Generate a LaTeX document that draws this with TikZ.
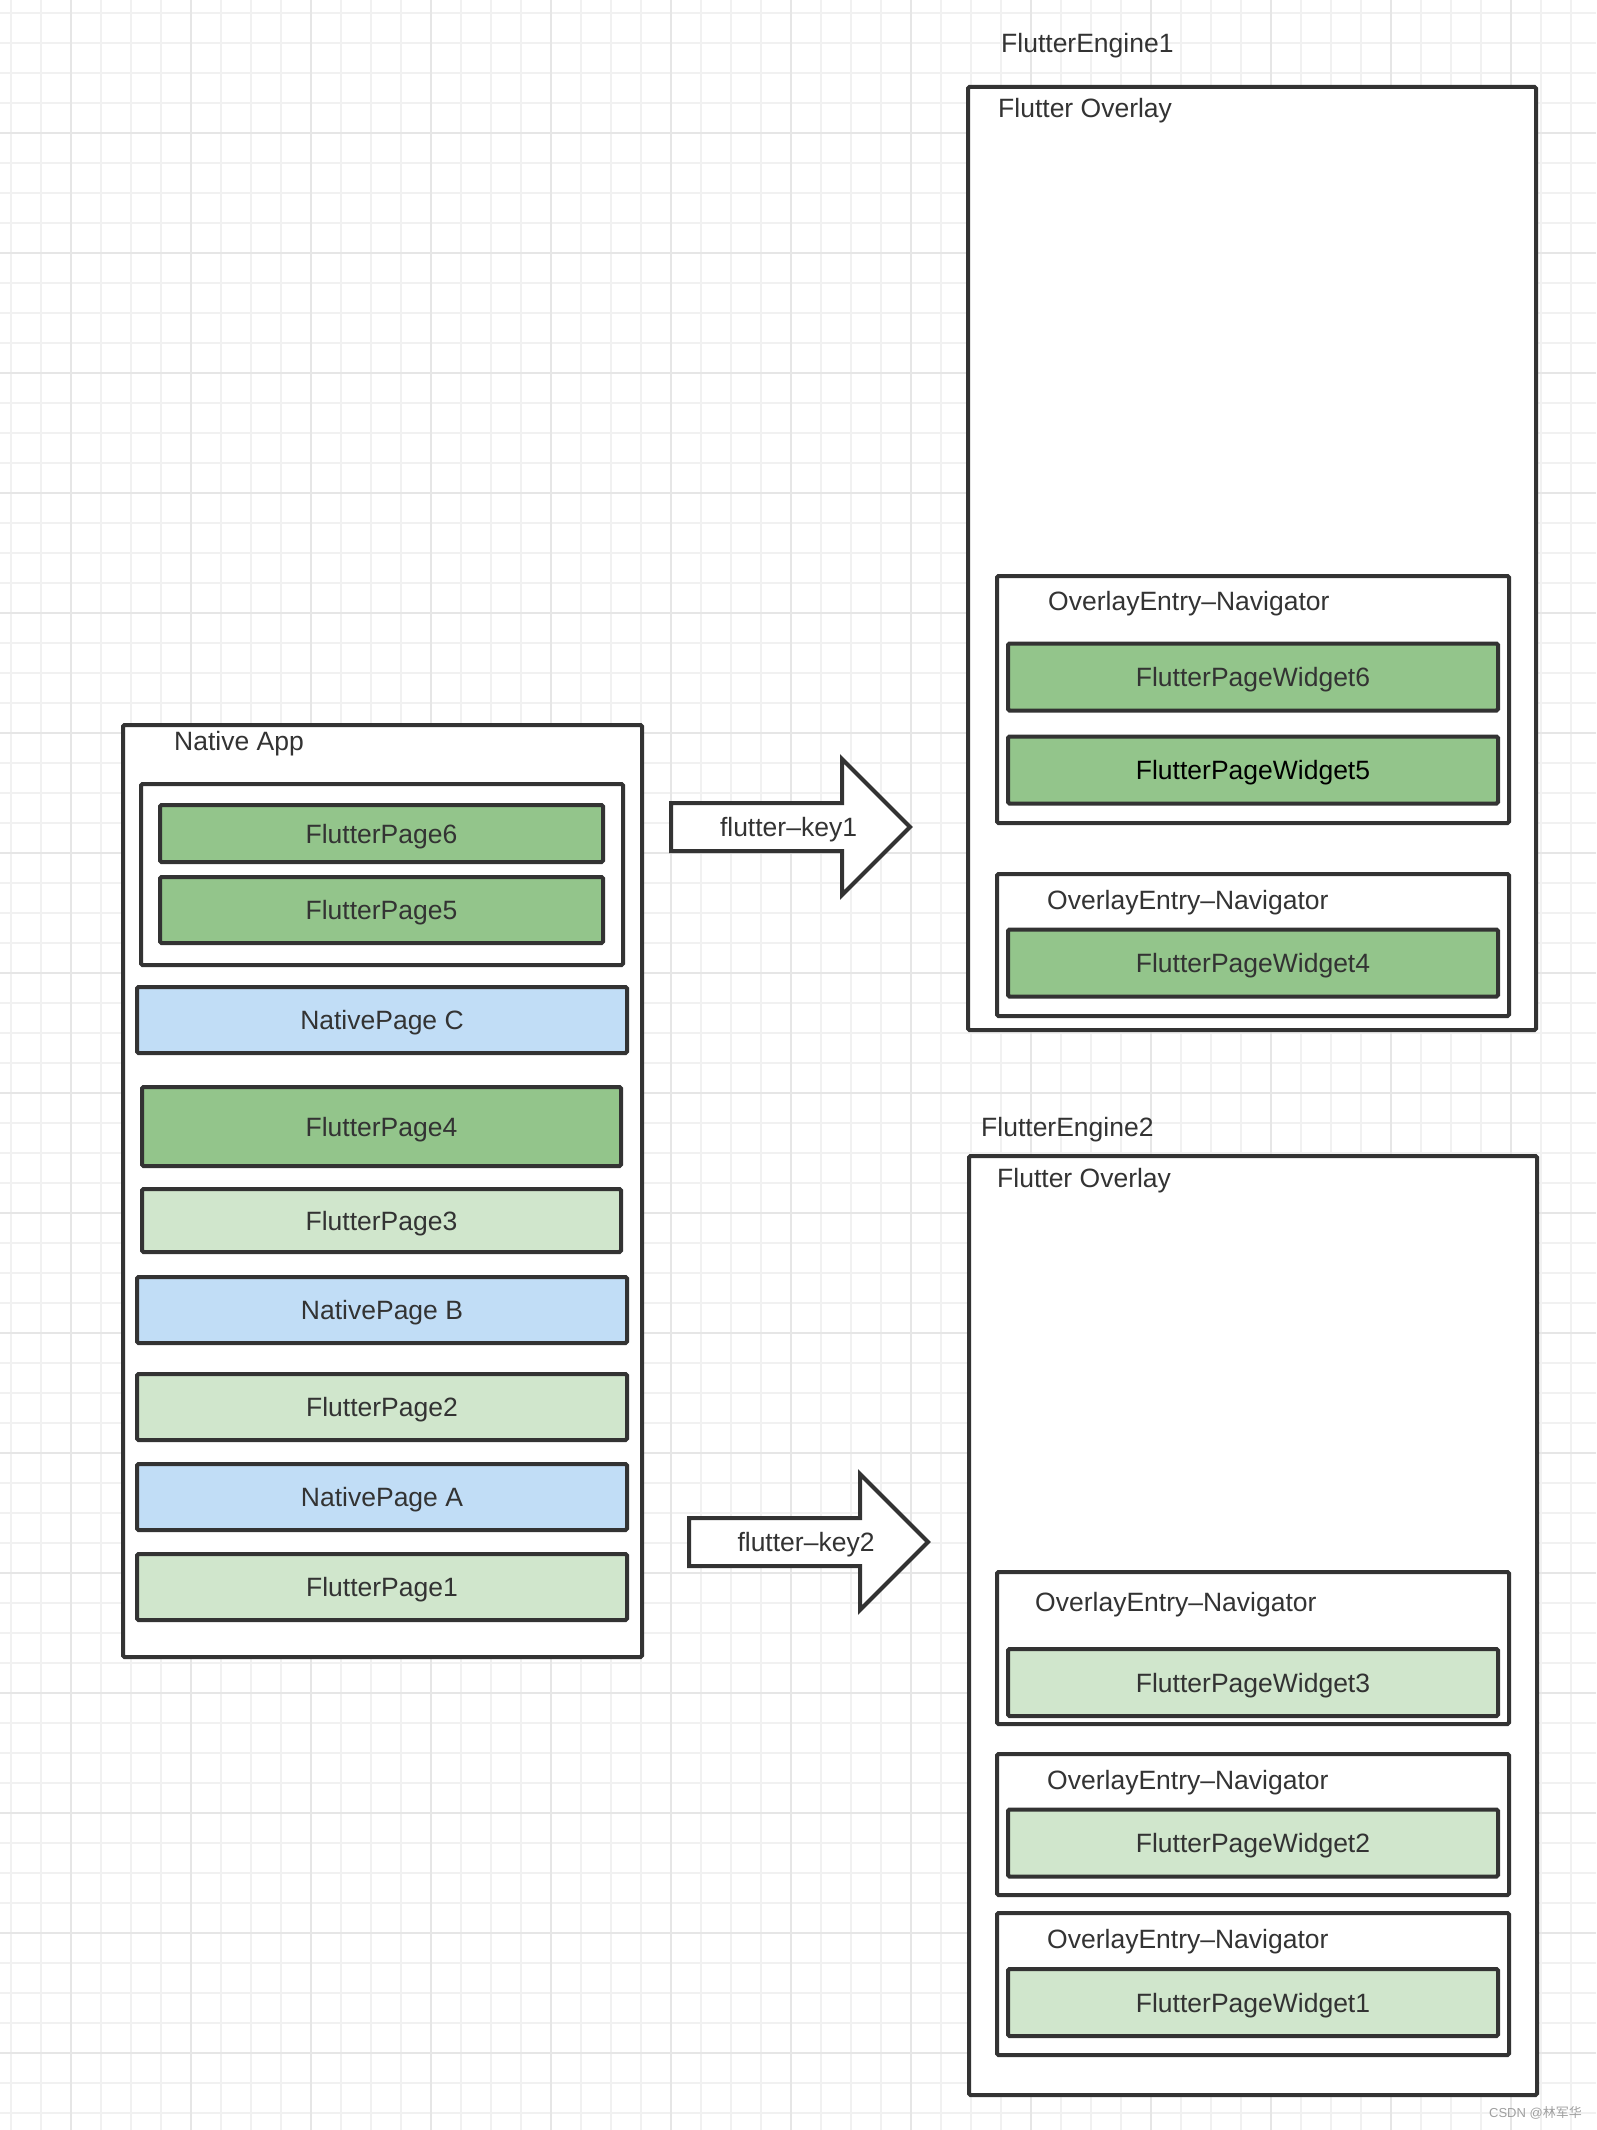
\documentclass[tikz,border=0pt]{standalone}
\usepackage{fontspec}
\setmainfont{Liberation Sans}
\newfontfamily\cjk{Noto Sans CJK SC}
\usepackage{tikz}
\usetikzlibrary{positioning,shapes.arrows}
\definecolor{ink}{HTML}{333333}
\definecolor{dkgreen}{HTML}{93C58B}
\definecolor{ltgreen}{HTML}{D0E6CC}
\definecolor{ltblue}{HTML}{C1DDF6}
\definecolor{gridmin}{HTML}{F1F1F1}
\definecolor{gridmaj}{HTML}{E6E6E6}
\tikzset{
  box/.style={rectangle, draw=ink, line width=4pt, fill=white, inner sep=0pt,
              rounded corners=1.5pt},
  pg/.style={box, font=\fontsize{26.5}{31}\selectfont, text=ink,
             text height=25pt, text depth=6pt},
  dkg/.style={pg, fill=dkgreen},
  ltg/.style={pg, fill=ltgreen},
  nat/.style={pg, fill=ltblue},
  lpg/.style={minimum width=490pt, minimum height=66pt},
  wdg/.style={minimum width=490pt, minimum height=67pt},
  ttl/.style={anchor=west, inner sep=0pt, text=ink, font=\fontsize{26.5}{31}\selectfont,
              text height=25pt, text depth=6pt},
  keyarr/.style={single arrow, draw=ink, line width=4pt, fill=white, anchor=tail,
                 minimum height=239pt, single arrow head extend=44pt,
                 text height=20pt, text depth=6pt, inner ysep=9pt, inner xsep=0pt},
  keylbl/.style={inner sep=0pt, text=ink, font=\fontsize{26.5}{31}\selectfont,
                 text height=25pt, text depth=6pt},
  gridln/.style={draw=gridmin, line width=2pt},
  gridbig/.style={draw=gridmaj, line width=2pt},
}

\begin{document}
\begin{tikzpicture}[x=1pt, y=-1pt]
  \useasboundingbox (0,0) rectangle (1596,2130);
  % background grid
  \foreach \gx in {11,41,...,1596} \draw[gridln] (\gx,0) -- (\gx,2130);
  \foreach \gy in {13,43,...,2130} \draw[gridln] (0,\gy) -- (1596,\gy);
  \foreach \gx in {71,191,...,1596} \draw[gridbig] (\gx,0) -- (\gx,2130);
  \foreach \gy in {133,253,...,2130} \draw[gridbig] (0,\gy) -- (1596,\gy);

  % native app stack
  \node[box, minimum width=519pt, minimum height=932pt] (app) at (382.5,1191) {};
  \node[ttl] (tapp) at (174,741) {Native App};
  \node[box, minimum width=482pt, minimum height=181pt] (grp) at (382,874.5) {};
  \node[dkg, minimum width=443pt, minimum height=57pt] (fp6) at (381.5,833.5) {FlutterPage6};
  \node[dkg, minimum width=443pt, minimum height=66pt] (fp5) at (381.5,910) {FlutterPage5};
  \node[nat, lpg] (npc) at (382,1020) {NativePage C};
  \node[dkg, minimum width=479pt, minimum height=79pt] (fp4) at (381.5,1126.5) {FlutterPage4};
  \node[ltg, minimum width=479pt, minimum height=63pt] (fp3) at (381.5,1220.5) {FlutterPage3};
  \node[nat, lpg] (npb) at (382,1310) {NativePage B};
  \node[ltg, lpg] (fp2) at (382,1407) {FlutterPage2};
  \node[nat, lpg] (npa) at (382,1497) {NativePage A};
  \node[ltg, lpg] (fp1) at (382,1587) {FlutterPage1};

  % keys
  \node[keyarr] (key1) at (669,827) {};
  \node[keylbl] (lkey1) at (788.5,827) {flutter–key1};
  \node[keyarr] (key2) at (687,1542) {};
  \node[keylbl] (lkey2) at (806,1542) {flutter–key2};

  % engine 1
  \node[ttl] (teng1) at (1001,43) {FlutterEngine1};
  \node[box, minimum width=568pt, minimum height=943pt] (ov1) at (1252,558.5) {};
  \node[ttl] (tov1) at (998,108) {Flutter Overlay};
  \node[box, minimum width=512pt, minimum height=247pt] (en1) at (1253,699.5) {};
  \node[ttl] (ten1) at (1048,601) {OverlayEntry–Navigator};
  \node[dkg, wdg] (w6) at (1253,677) {FlutterPageWidget6};
  \node[dkg, wdg, text=black] (w5) at (1253,770) {FlutterPageWidget5};
  \node[box, minimum width=512pt, minimum height=142pt] (en2) at (1253,945) {};
  \node[ttl] (ten2) at (1047,900) {OverlayEntry–Navigator};
  \node[dkg, wdg] (w4) at (1253,963) {FlutterPageWidget4};

  % engine 2
  \node[ttl] (teng2) at (981,1127) {FlutterEngine2};
  \node[box, minimum width=568pt, minimum height=939pt] (ov2) at (1253,1625.5) {};
  \node[ttl] (tov2) at (997,1178) {Flutter Overlay};
  \node[box, minimum width=512pt, minimum height=152pt] (en3) at (1253,1648) {};
  \node[ttl] (ten3) at (1035,1602) {OverlayEntry–Navigator};
  \node[ltg, wdg] (w3) at (1253,1682.5) {FlutterPageWidget3};
  \node[box, minimum width=512pt, minimum height=141pt] (en4) at (1253,1824.5) {};
  \node[ttl] (ten4) at (1047,1780) {OverlayEntry–Navigator};
  \node[ltg, wdg] (w2) at (1253,1843) {FlutterPageWidget2};
  \node[box, minimum width=512pt, minimum height=142pt] (en5) at (1253,1984) {};
  \node[ttl] (ten5) at (1047,1939) {OverlayEntry–Navigator};
  \node[ltg, wdg] (w1) at (1253,2002.5) {FlutterPageWidget1};

  \node[anchor=east, inner sep=0pt, text=gray!75, font=\fontsize{13}{15}\selectfont]
    (mark) at (1582,2113) {CSDN @{\cjk 林军华}};
\end{tikzpicture}
\end{document}
